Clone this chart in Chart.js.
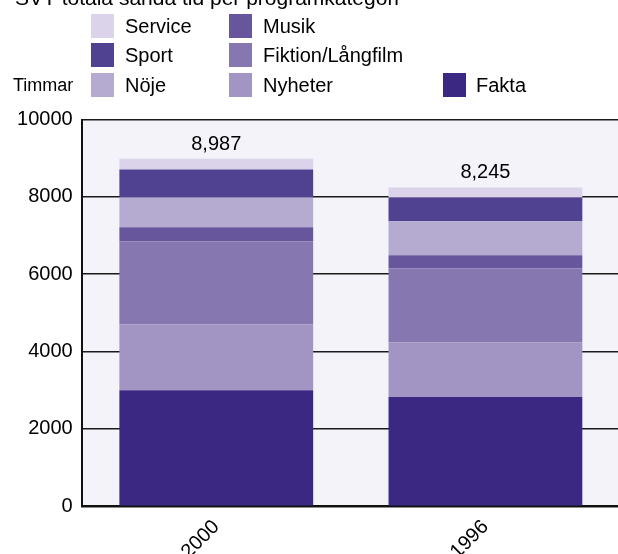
<!DOCTYPE html>
<html>
<head>
<meta charset="utf-8">
<script src="https://cdn.jsdelivr.net/npm/chart.js@4/dist/chart.umd.min.js"></script>
<style>
  html, body { margin: 0; padding: 0; background: #fff; overflow: hidden; }
  #wrap { position: relative; width: 622px; height: 554px; }
</style>
</head>
<body>
<div id="wrap"><canvas id="svtChart" width="622" height="554"></canvas></div>
<script>
"use strict";

var FONT = '"Liberation Sans", Arial, sans-serif';

// Data (hours per category), bottom of stack first
var categories = ['2000', '1996'];
var fakta = [3003, 2827];
var nyheter = [1704, 1415];
var fiktion = [2143, 1912];
var musik = [362, 335];
var noje = [774, 878];
var sport = [723, 619];
var service = [278, 259];
var yTicks = [0, 2000, 4000, 6000, 8000, 10000];

var chartTitle = 'SVT totala sända tid per programkategori';
var yTitle = 'Timmar';

// legend slot per label: [column, row]
var legendSlots = {
    'Service': [0, 0], 'Sport': [0, 1], 'Nöje': [0, 2],
    'Musik': [1, 0], 'Fiktion/Långfilm': [1, 1], 'Nyheter': [1, 2],
    'Fakta': [2, 2]
};

function ds(label, data, color) {
    return {
        label: label,
        data: data,
        backgroundColor: color,
        borderWidth: 0,
        categoryPercentage: 1.0,
        barPercentage: 0.72
    };
}

var plotBackground = {
    id: 'plotBackground',
    beforeDraw: function (chart) {
        var a = chart.chartArea, ctx = chart.ctx;
        ctx.save();
        ctx.fillStyle = '#f4f3f9';
        ctx.fillRect(a.left, a.top, a.right - a.left, a.bottom - a.top);
        ctx.restore();
    }
};

var extras = {
    id: 'extras',
    afterDraw: function (chart) {
        var ctx = chart.ctx;
        var sets = chart.data.datasets;
        ctx.save();

        // title (mostly cut off at the top)
        ctx.fillStyle = '#000';
        ctx.font = '21px ' + FONT;
        ctx.textAlign = 'left';
        ctx.textBaseline = 'alphabetic';
        ctx.fillText(chartTitle, 15, 5);

        // legend
        var colX = [[91, 125], [229, 263], [443, 476]];
        var rowY = [14, 43, 73];
        ctx.font = '20px ' + FONT;
        ctx.textBaseline = 'middle';
        sets.forEach(function (d) {
            var slot = legendSlots[d.label];
            if (!slot) return;
            var bx = colX[slot[0]][0], tx = colX[slot[0]][1], by = rowY[slot[1]];
            ctx.fillStyle = d.backgroundColor;
            ctx.fillRect(bx, by, 23, 24);
            ctx.fillStyle = '#000';
            ctx.fillText(d.label, tx, by + 13);
        });

        // y axis title
        ctx.font = '18px ' + FONT;
        ctx.fillText(yTitle, 13, rowY[2] + 13);

        // totals above bars
        var topMeta = chart.getDatasetMeta(sets.length - 1);
        ctx.font = '20px ' + FONT;
        ctx.textAlign = 'center';
        ctx.textBaseline = 'alphabetic';
        categories.forEach(function (c, i) {
            var total = 0;
            sets.forEach(function (d) { total += d.data[i]; });
            var bar = topMeta.data[i];
            ctx.fillText(total.toLocaleString('en-US'), bar.x, bar.y - 9);
        });
        ctx.restore();
    }
};

var config = {
    type: 'bar',
    data: {
        labels: categories,
        datasets: [
            ds('Fakta', fakta, '#3b2882'),
            ds('Nyheter', nyheter, '#a295c4'),
            ds('Fiktion/Långfilm', fiktion, '#8677b0'),
            ds('Musik', musik, '#68569d'),
            ds('Nöje', noje, '#b5abd1'),
            ds('Sport', sport, '#504191'),
            ds('Service', service, '#dbd3e9')
        ]
    },
    options: {
        responsive: false,
        animation: false,
        layout: { padding: { top: 119.5, right: 2, left: 0, bottom: 0 } },
        plugins: {
            legend: { display: false },
            title: { display: false },
            tooltip: { enabled: false }
        },
        scales: {
            x: {
                stacked: true,
                grid: { display: false, drawTicks: false },
                border: { display: true, color: '#111', width: 2 },
                ticks: {
                    color: '#000',
                    font: { family: FONT, size: 20 },
                    minRotation: 45,
                    maxRotation: 45,
                    padding: 9
                },
                afterFit: function (scale) { scale.height = 47.7; }
            },
            y: {
                stacked: true,
                min: yTicks[0],
                max: yTicks[yTicks.length - 1],
                afterBuildTicks: function (scale) {
                    scale.ticks = yTicks.map(function (v) { return { value: v }; });
                },
                grid: { color: '#1a1a1a', lineWidth: 1.5, drawTicks: false },
                border: { display: true, color: '#111', width: 2 },
                ticks: {
                    color: '#000',
                    font: { family: FONT, size: 20 },
                    padding: 9,
                    callback: function (v) { return String(v); }
                },
                afterFit: function (scale) { scale.width = 81.7; }
            }
        }
    },
    plugins: [plotBackground, extras]
};

var svtChart = new Chart(document.getElementById('svtChart'), config);
</script>
</body>
</html>
